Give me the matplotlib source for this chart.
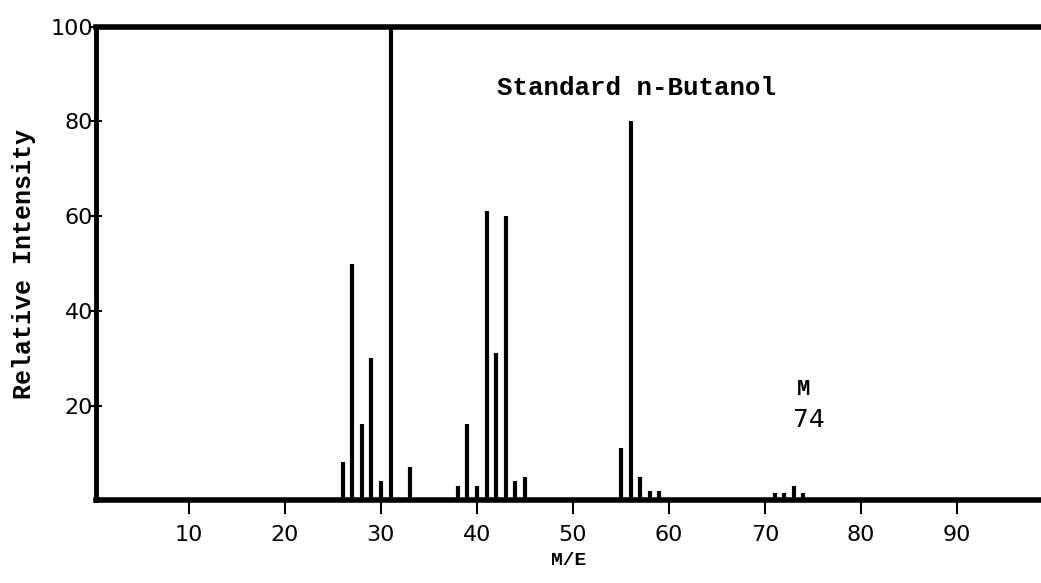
import matplotlib.pyplot as plt

# Datos (m/e, intensidad relativa)
masas = [26, 27, 28, 29, 30, 31, 33,
         38, 39, 40, 41, 42, 43, 44, 45,
         55, 56, 57, 58, 59,
         71, 72, 73, 74]
intensidad = [8, 50, 16, 30, 4, 100, 7,
              3, 16, 3, 61, 31, 60, 4, 5,
              11, 80, 5, 2, 2,
              1.5, 1.5, 3, 1.5]
ticks_x = [10, 20, 30, 40, 50, 60, 70, 80, 90]
ticks_y = [20, 40, 60, 80, 100]

mono = 'Liberation Mono'

fig = plt.figure(figsize=(10.41, 5.83), dpi=100)
ax = fig.add_axes([0.092, 0.142, 0.908, 0.812])

ax.vlines(masas, 0, intensidad, color='black', linewidth=3)

ax.set_xlim(0.3, 98.75)
ax.set_ylim(0, 100)
ax.set_xticks(ticks_x)
ax.set_yticks(ticks_y)
ax.set_xticklabels([str(t) for t in ticks_x], fontsize=16, family='DejaVu Sans')
ax.set_yticklabels([str(t) for t in ticks_y], fontsize=16, family='DejaVu Sans')
ax.tick_params(axis='x', direction='out', length=10, width=1.5, pad=8)
ax.tick_params(axis='y', direction='inout', length=8, width=1.5, pad=-2)

for lado in ['top', 'bottom']:
    ax.spines[lado].set_linewidth(4)
ax.spines['left'].set_linewidth(3.5)
ax.spines['right'].set_visible(False)

ax.set_ylabel('Relative Intensity', fontsize=18, family=mono, fontweight='bold', labelpad=10)
ax.set_xlabel('M/E', fontsize=14, family=mono, fontweight='bold', labelpad=5)

ax.text(56.6, 87, 'Standard n-Butanol', fontsize=18.5, family=mono, fontweight='bold',
        ha='center', va='center')
ax.text(74.0, 23.3, 'M', fontsize=16, family=mono, fontweight='bold', ha='center', va='center')
ax.text(74.6, 17, '74', fontsize=18, family='DejaVu Sans', ha='center', va='center')

fig.savefig('out.png', dpi=100)
